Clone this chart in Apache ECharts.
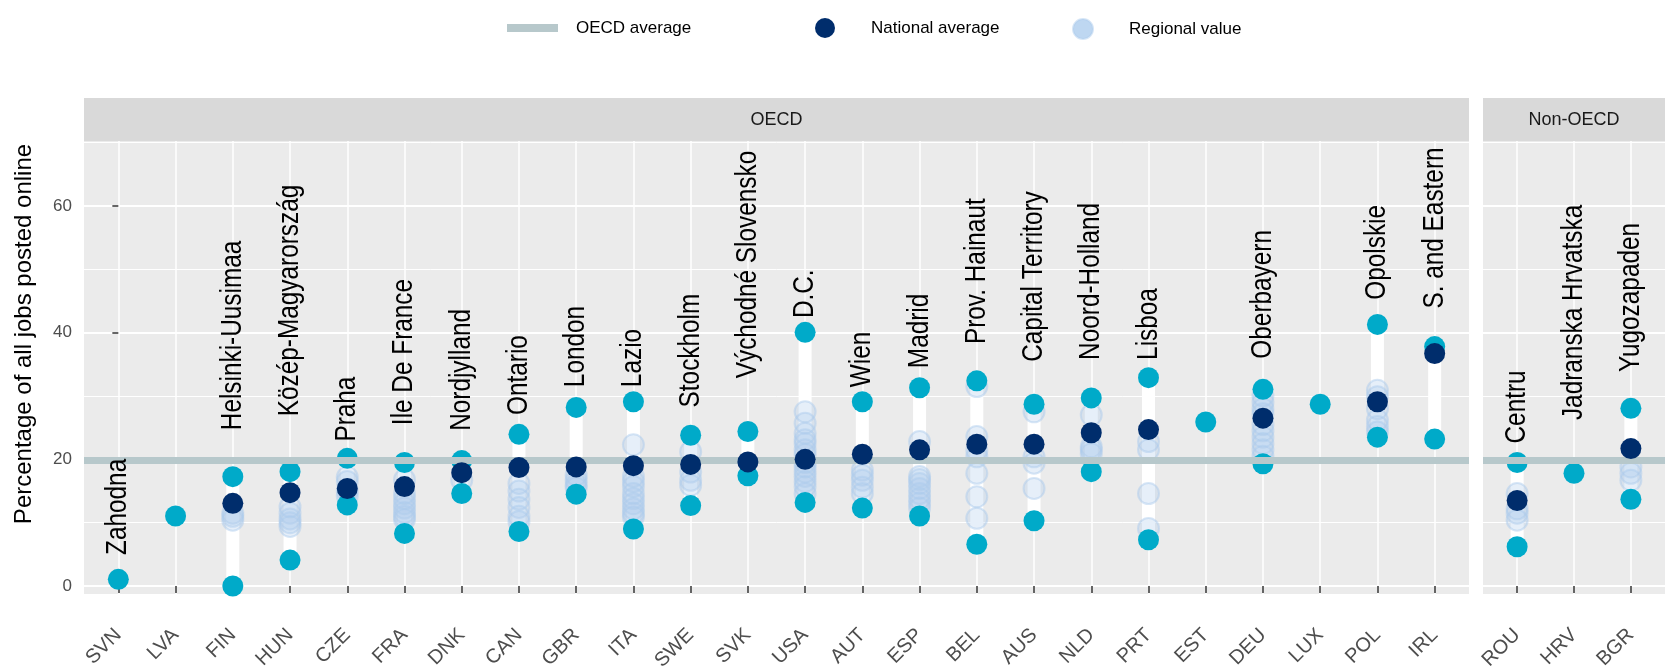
<!DOCTYPE html>
<html>
<head>
<meta charset="utf-8">
<title>Regional share of jobs posted online</title>
<script src="https://cdn.jsdelivr.net/npm/echarts@6/dist/echarts.min.js"></script>
<style>
  html, body { margin: 0; padding: 0; background: #fff; }
  #chart { width: 1670px; height: 666px; }
</style>
</head>
<body>
<div id="chart"></div>
<script>
// countries in plotting order, one facet each
const oecdCountries = ['SVN', 'LVA', 'FIN', 'HUN', 'CZE', 'FRA', 'DNK', 'CAN', 'GBR', 'ITA', 'SWE', 'SVK',
  'USA', 'AUT', 'ESP', 'BEL', 'AUS', 'NLD', 'PRT', 'EST', 'DEU', 'LUX', 'POL', 'IRL']
const nonOecdCountries = ['ROU', 'HRV', 'BGR']

// values below follow oecdCountries then nonOecdCountries
const nationalAverage = [null, null, 13.05, 14.74, 15.4, 15.7, 17.9, 18.7, 18.8, 19.0, 19.2, 19.6,
  20.0, 20.8, 21.5, 22.4, 22.4, 24.2, 24.7, null, 26.5, null, 29.1, 36.7,
  13.5, null, 21.7]
const topRegionValue = [1.05, 11.05, 17.26, 18.05, 20.16, 19.5, 19.8, 23.95, 28.2, 29.1, 23.8, 24.4,
  40.05, 29.1, 31.3, 32.4, 28.7, 29.7, 32.9, 25.9, 31.05, 28.7, 41.3, 37.8,
  19.5, 17.8, 28.05]
const bottomRegionValue = [null, null, 0.0, 4.1, 12.8, 8.3, 14.6, 8.6, 14.5, 9.0, 12.7, 17.4,
  13.2, 12.3, 11.05, 6.6, 10.3, 18.05, 7.3, null, 19.3, null, 23.5, 23.2,
  6.2, null, 13.7]
const otherRegionValues = [
  [], [], [11.5, 11.0, 10.4], [12.5, 11.5, 10.6, 10.0, 9.4], [17.2, 16.5, 15.0, 14.2],
  [16.8, 14.6, 13.8, 13.0, 12.3, 11.6, 11.0, 10.5], [16.7], [16.2, 15.0, 13.7, 12.4, 11.0, 10.2],
  [17.5, 16.7, 16.0, 15.5], [22.3, 17.3, 16.5, 15.7, 14.6, 13.8, 13.0, 12.2, 11.5, 10.9],
  [21.2, 18.0, 16.7, 15.9], [],
  [27.5, 25.7, 24.1, 23.1, 22.5, 21.5, 20.8, 19.5, 18.8, 18.0, 17.3, 16.5, 15.7, 14.6],
  [18.3, 17.5, 16.7, 15.6, 14.6], [22.8, 17.3, 16.8, 16.2, 15.4, 14.6, 13.8, 13.1, 12.3],
  [31.5, 23.6, 21.4, 20.4, 17.8, 14.1, 10.7], [27.5, 20.4, 19.4, 15.4], [27.0, 22.0, 21.5, 20.9],
  [22.8, 21.5, 14.6, 9.1], [], [30.0, 29.0, 28.0, 27.2, 25.5, 24.5, 23.5, 22.5, 21.5, 20.5], [],
  [30.9, 29.9, 28.0, 26.2, 25.2, 24.3], [],
  [14.6, 12.2, 11.5, 10.4], [], [18.8, 17.8, 16.7]
]
const topRegionName = ['Zahodna', '', 'Helsinki-Uusimaa', 'Közép-Magyarország', 'Praha', 'Ile De France',
  'Nordjylland', 'Ontario', 'London', 'Lazio', 'Stockholm', 'Východné Slovensko', 'D.C.', 'Wien', 'Madrid',
  'Prov. Hainaut', 'Capital Territory', 'Noord-Holland', 'Lisboa', '', 'Oberbayern', '', 'Opolskie',
  'S. and Eastern', 'Centru', 'Jadranska Hrvatska', 'Yugozapaden']
// value on the y scale where each region name starts
const labelFrom = [4.9, null, 24.6, 26.8, 22.8, 25.4, 24.5, 27.0, 31.4, 31.4, 28.2, 32.8,
  42.3, 31.4, 34.4, 38.2, 35.4, 35.7, 35.7, null, 35.9, null, 45.2, 43.8,
  22.5, 26.2, 33.8]
const oecdAverage = 19.9
const yTicks = [0, 20, 40, 60]
const yMinorTicks = [10, 30, 50, 70]

const sans = "'Liberation Sans', Arial, sans-serif"
const teal = '#00aac9'
const navy = '#002d6c'

const allCountries = oecdCountries.concat(nonOecdCountries)
const panels = [
  { name: 'OECD', start: 0, count: oecdCountries.length, left: 84, width: 1385 },
  { name: 'Non-OECD', start: oecdCountries.length, count: nonOecdCountries.length, left: 1483, width: 182 }
]
const gridTop = 141
const gridHeight = 453
const yMin = -1.26
const yMax = 70.26

const chart = echarts.init(document.getElementById('chart'))

const grids = []
const xAxes = []
const yAxes = []
const series = []
const graphics = []

panels.forEach((p, k) => {
  const idx = []
  for (let i = 0; i < p.count; i++) idx.push(i)
  const inPanel = idx.map(i => p.start + i)

  grids.push({
    left: p.left, top: gridTop, width: p.width, height: gridHeight,
    show: true, backgroundColor: '#ebebeb', borderWidth: 0, outerBoundsMode: 'none'
  })
  xAxes.push({
    gridIndex: k, type: 'value', min: -0.6, max: p.count - 1 + 0.6,
    axisLine: { show: false },
    axisTick: { show: true, customValues: idx, length: 7, lineStyle: { color: '#333', width: 1.5 } },
    axisLabel: {
      customValues: idx, formatter: v => allCountries[p.start + v], rotate: 45, margin: 38,
      color: '#4d4d4d', fontSize: 20, fontFamily: sans
    },
    splitLine: { show: true, lineStyle: { color: '#fff', width: 1.5 } }
  })
  // major grid + tick labels
  yAxes.push({
    gridIndex: k, type: 'value', min: yMin, max: yMax,
    axisLine: { show: false },
    axisTick: { show: k === 0, customValues: yTicks, length: 6, lineStyle: { color: '#333', width: 1.5 } },
    axisLabel: { show: k === 0, customValues: yTicks, margin: 12, color: '#4d4d4d', fontSize: 17, fontFamily: sans },
    splitLine: { show: true, lineStyle: { color: '#fff', width: 2 } }
  })
  // minor grid
  yAxes.push({
    gridIndex: k, type: 'value', min: yMin, max: yMax,
    axisLine: { show: false },
    axisTick: { show: false, customValues: yMinorTicks },
    axisLabel: { show: false, customValues: yMinorTicks },
    splitLine: { show: true, lineStyle: { color: '#fff', width: 1 } }
  })

  const yi = 2 * k
  // white range between lowest and highest region
  series.push({
    type: 'custom', name: 'range', xAxisIndex: k, yAxisIndex: yi, z: 1, silent: true,
    data: inPanel.filter(i => bottomRegionValue[i] !== null)
      .map(i => [i - p.start, bottomRegionValue[i], topRegionValue[i]]),
    encode: { x: 0, y: [1, 2] },
    renderItem: (params, api) => {
      const lo = api.coord([api.value(0), api.value(1)])
      const hi = api.coord([api.value(0), api.value(2)])
      return {
        type: 'line',
        shape: { x1: lo[0], y1: lo[1], x2: hi[0], y2: hi[1] },
        style: { stroke: '#ffffff', lineWidth: 13 }
      }
    }
  })
  series.push({
    type: 'line', name: 'OECD average', xAxisIndex: k, yAxisIndex: yi, z: 2, data: [],
    markLine: {
      silent: true, symbol: 'none', label: { show: false },
      lineStyle: { color: '#b7c8cb', width: 7, type: 'solid' },
      emphasis: { disabled: true },
      data: [{ yAxis: oecdAverage }]
    }
  })
  const regional = []
  inPanel.forEach(i => otherRegionValues[i].forEach(v => regional.push([i - p.start, v])))
  series.push({
    type: 'scatter', name: 'Regional value', xAxisIndex: k, yAxisIndex: yi, z: 3, silent: true,
    symbolSize: 21, data: regional,
    itemStyle: { color: 'rgba(172, 203, 237, 0.38)', borderColor: 'rgba(172, 203, 237, 0.6)', borderWidth: 2 }
  })
  const extremes = []
  inPanel.forEach(i => {
    extremes.push([i - p.start, topRegionValue[i]])
    if (bottomRegionValue[i] !== null) extremes.push([i - p.start, bottomRegionValue[i]])
  })
  series.push({
    type: 'scatter', name: 'Top and bottom region', xAxisIndex: k, yAxisIndex: yi, z: 4, silent: true,
    symbolSize: 21, data: extremes, itemStyle: { color: teal, opacity: 1 }
  })
  series.push({
    type: 'scatter', name: 'National average', xAxisIndex: k, yAxisIndex: yi, z: 5, silent: true,
    symbolSize: 21,
    data: inPanel.filter(i => nationalAverage[i] !== null).map(i => [i - p.start, nationalAverage[i]]),
    itemStyle: { color: navy, opacity: 1 }
  })
  // name of the highest region, set upright above the column (narrowed like Arial Narrow)
  const named = inPanel.filter(i => topRegionName[i] !== '')
  series.push({
    type: 'custom', name: 'names', xAxisIndex: k, yAxisIndex: yi, z: 6, silent: true,
    data: named.map(i => [i - p.start, labelFrom[i]]),
    encode: { x: 0, y: 1 },
    renderItem: (params, api) => {
      const pt = api.coord([api.value(0), api.value(1)])
      return {
        type: 'text', x: pt[0], y: pt[1], rotation: Math.PI / 2, scaleX: 0.84,
        style: {
          text: topRegionName[named[params.dataIndex]], fill: '#000', font: '29px ' + sans,
          textAlign: 'left', textVerticalAlign: 'middle'
        }
      }
    }
  })

  // facet strip
  graphics.push({
    type: 'rect', left: p.left, top: 98, shape: { width: p.width, height: 43 }, style: { fill: '#d9d9d9' }, silent: true
  })
  graphics.push({
    type: 'text', x: p.left + p.width / 2, y: 120,
    style: { text: p.name, fill: '#1a1a1a', font: '18px ' + sans, textAlign: 'center', textVerticalAlign: 'middle' },
    silent: true
  })
})

graphics.push({
  type: 'text', x: 24, y: 334, rotation: Math.PI / 2,
  style: {
    text: 'Percentage of all jobs posted online', fill: '#000',
    font: '24px ' + sans, textAlign: 'center', textVerticalAlign: 'middle'
  },
  silent: true
})

const legendText = { fontSize: 17, fontFamily: sans, color: '#000' }
const option = {
  animation: false,
  grid: grids,
  xAxis: xAxes,
  yAxis: yAxes,
  series: series,
  graphic: graphics,
  legend: [
    {
      left: 502, top: 14.5, itemWidth: 51, itemHeight: 8, selectedMode: false,
      data: [{ name: 'OECD average', icon: 'rect', itemStyle: { color: '#b7c8cb' } }],
      textStyle: Object.assign({ padding: [0, 0, 0, 13] }, legendText)
    },
    {
      left: 810, top: 13, itemWidth: 20, itemHeight: 20, selectedMode: false,
      data: [{ name: 'National average', icon: 'circle', itemStyle: { color: navy } }],
      textStyle: Object.assign({ padding: [0, 0, 0, 31] }, legendText)
    },
    {
      left: 1067, top: 13, itemWidth: 20, itemHeight: 20, selectedMode: false,
      data: [{ name: 'Regional value', icon: 'circle', itemStyle: { color: '#aecdee' } }],
      textStyle: Object.assign({ padding: [0, 0, 0, 31] }, legendText)
    }
  ]
}
chart.setOption(option)
</script>
</body>
</html>
